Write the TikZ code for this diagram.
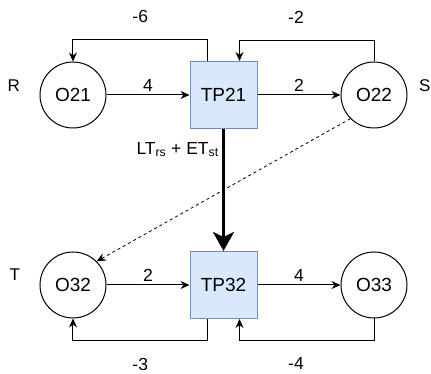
\documentclass[tikz,border=0pt]{standalone}
\usepackage{fontspec}
\setmainfont{Liberation Sans}
\usepackage{xcolor}
\definecolor{accent}{HTML}{6C8EBF}
\definecolor{accentfill}{HTML}{DAE8FC}
\usepackage{tikz}
\usetikzlibrary{arrows.meta,positioning,calc}
\tikzset{
  op/.style={draw,circle,minimum size=66pt,inner sep=0pt,line width=1pt,%
    font=\fontsize{19}{21}\selectfont},
  tp/.style={draw=accent,fill=accentfill,minimum size=67pt,inner sep=0pt,%
    line width=1pt,font=\fontsize{19}{21}\selectfont},
  tag/.style={font=\fontsize{17}{20}\selectfont},
  wt/.style={font=\fontsize{17.5}{20}\selectfont},
  flow/.style={-{Stealth[length=9pt,width=8pt]},line width=1pt},
  hop/.style={flow,dash pattern=on 3pt off 3pt,line width=0.8pt},
  link/.style={-{Stealth[length=19pt,width=21pt,inset=5pt]},line width=3pt},
}

\begin{document}
\begin{tikzpicture}[node distance=122pt and 83pt]
\useasboundingbox (-73pt,95pt) rectangle (358pt,-279pt);
\node[op] (o21) {O21};
\node[tp,right=of o21] (tp21) {TP21};
\node[op,right=of tp21] (o22) {O22};
\node[tp,below=of tp21] (tp32) {TP32};
\node[op,left=of tp32] (o32) {O32};
\node[op,right=of tp32] (o33) {O33};
\node[tag,left=16pt of o21,yshift=9pt] (r) {R};
\node[tag,right=8pt of o22,yshift=9pt] (s) {S};
\node[tag,left=16pt of o32,yshift=10pt] (t) {T};
\draw[flow] (o21) -- node[wt,above]{4} (tp21);
\draw[flow] (tp21) -- node[wt,above]{2} (o22);
\draw[flow] (o32) -- node[wt,above]{2} (tp32);
\draw[flow] (tp32) -- node[wt,above]{4} (o33);
\draw[flow] ([xshift=-16pt]tp21.north) -- ++(0,21pt)
  -| node[wt,pos=0.25,above=13pt]{-6} (o21.north);
\draw[flow] (o22.north) -- ++(0,21pt)
  -| node[wt,pos=0.29,above=13pt]{-2} ([xshift=16pt]tp21.north);
\draw[flow] ([xshift=-16pt]tp32.south) -- ++(0,-22pt)
  -| node[wt,pos=0.25,below=13pt]{-3} (o32.south);
\draw[flow] (o33.south) -- ++(0,-22pt)
  -| node[wt,pos=0.29,below=13pt]{-4} ([xshift=16pt]tp32.south);
\draw[link] (tp21) -- node[wt,left=0pt,pos=0.17]
  {LT\textsubscript{rs} + ET\textsubscript{st}} (tp32);
\draw[hop] (o22.south west) -- (o32.north east);
\end{tikzpicture}
\end{document}
